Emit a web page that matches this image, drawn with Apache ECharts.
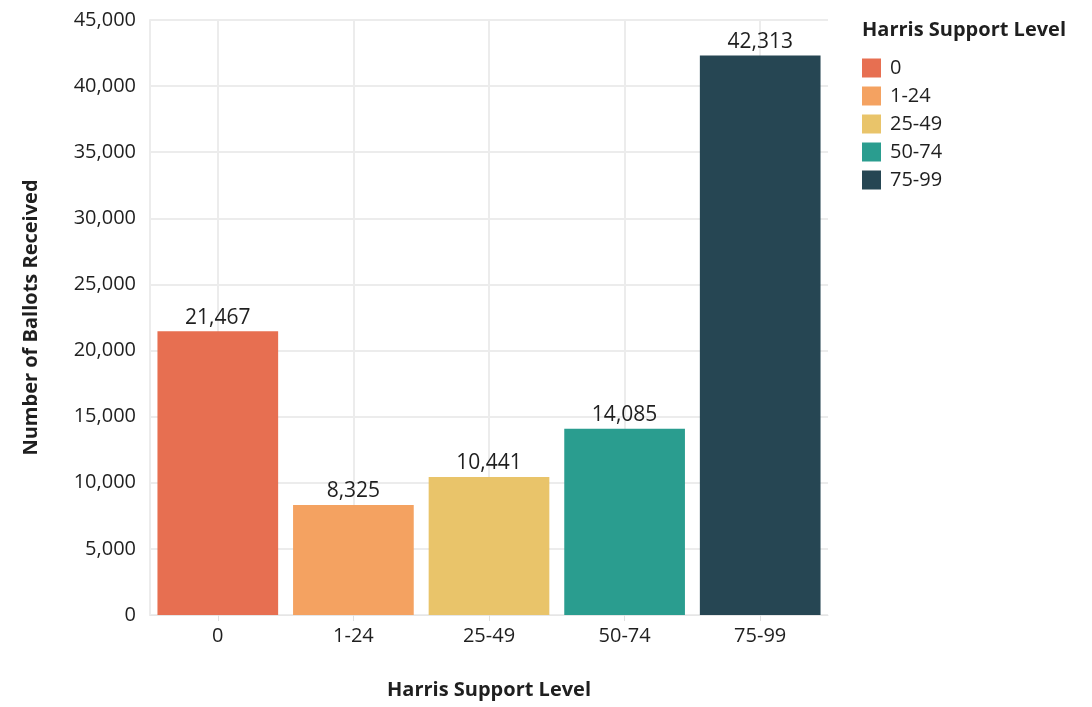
<!DOCTYPE html>
<html><head><meta charset="utf-8">
<script src="https://cdn.jsdelivr.net/npm/echarts@6/dist/echarts.min.js"></script>
<style>html,body{margin:0;padding:0;background:#fff}#c{width:1092px;height:707px}</style>
</head><body><div id="c"></div>
<script>
const categories = ['0', '1-24', '25-49', '50-74', '75-99'];
const values = [21467, 8325, 10441, 14085, 42313];
const colors = ['#e76f51', '#f4a261', '#e9c46a', '#2a9d8f', '#264653'];
const FONT = '"Open Sans", "Noto Sans", sans-serif';
const TXT = '#1f1f1f';
const fmt = v => Number(v).toLocaleString('en-US');

const series = categories.map((c, i) => ({
  name: c,
  type: 'bar',
  stack: 'all',
  barWidth: '89%',
  itemStyle: { color: colors[i] },
  data: categories.map((_, j) => j === i ? values[i] : '-'),
  label: { show: true, position: 'top', distance: 3, color: TXT, fontSize: 21, fontFamily: FONT,
    formatter: p => fmt(p.value) }
}));

const chart = echarts.init(document.getElementById('c'));
chart.setOption({
  backgroundColor: '#fff',
  animation: false,
  title: { text: 'Harris Support Level', left: 857, top: 15,
    textStyle: { fontFamily: FONT, fontSize: 20, fontWeight: 'bold', color: TXT } },
  legend: { orient: 'vertical', left: 862, top: 58, icon: 'rect', itemWidth: 19, itemHeight: 19, itemGap: 8,
    padding: 0, textStyle: { fontFamily: FONT, fontSize: 20, lineHeight: 19, color: TXT, padding: [0, 0, 0, 4] },
    data: categories },
  grid: { left: 150, right: 264, top: 20, bottom: 92 },
  xAxis: {
    type: 'category', data: categories,
    name: 'Harris Support Level', nameLocation: 'middle', nameGap: 65,
    nameTextStyle: { fontFamily: FONT, fontSize: 20, fontWeight: 'bold', color: TXT },
    axisLine: { show: true, lineStyle: { color: '#e6e6e6' } },
    axisTick: { show: true, alignWithLabel: true, length: 6, lineStyle: { color: '#e0e0e0' } },
    axisLabel: { fontFamily: FONT, fontSize: 20, color: TXT, margin: 11 },
    splitLine: { show: true, alignWithLabel: true, lineStyle: { color: '#ececec', width: 2 } }
  },
  yAxis: {
    type: 'value', min: 0, max: 45000, interval: 5000,
    name: 'Number of Ballots Received', nameLocation: 'middle', nameGap: 109,
    nameTextStyle: { fontFamily: FONT, fontSize: 20, fontWeight: 'bold', color: TXT },
    axisLine: { show: true, lineStyle: { color: '#ececec', width: 2 } },
    axisTick: { show: false },
    axisLabel: { fontFamily: FONT, fontSize: 20, color: TXT, margin: 14, formatter: v => fmt(v) },
    splitLine: { show: true, lineStyle: { color: '#ececec', width: 2 } }
  },
  series
});
</script></body></html>
